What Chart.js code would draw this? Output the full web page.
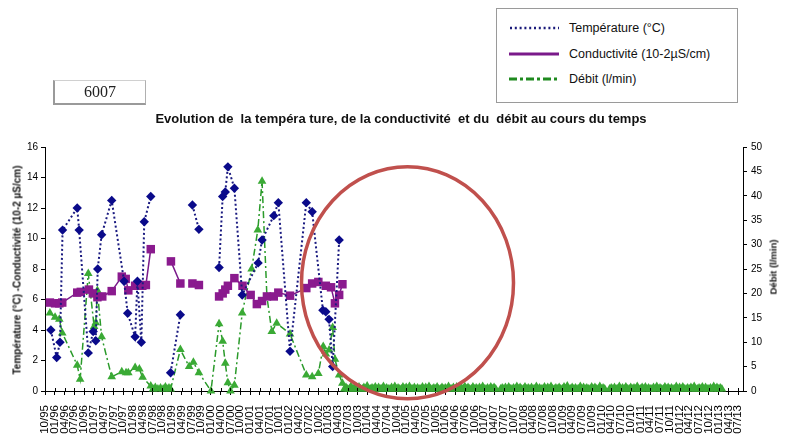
<!DOCTYPE html>
<html>
<head>
<meta charset="utf-8">
<script src="https://cdn.jsdelivr.net/npm/chart.js@4.4.1/dist/chart.umd.min.js"></script>
<style>
    body { margin: 0; background: #fff; font-family: "Liberation Sans", Arial, sans-serif; }
    #wrap { position: relative; width: 790px; height: 434px; overflow: hidden; }
    #chart { position: absolute; left: 0; top: 0; }
    #legend { position: absolute; left: 496px; top: 8px; width: 242px; height: 95px; border: 1px solid #9a9a9a; box-sizing: border-box; background: #fff; }
    .item { position: absolute; left: 12px; height: 16px; font-size: 12.5px; color: #111; white-space: nowrap; }
    .item svg { position: absolute; left: 0; top: 5px; }
    .item span { position: absolute; left: 60px; top: 0; line-height: 16px; }
    #tag { position: absolute; left: 53px; top: 80px; width: 90px; height: 22px; border-top: 1px solid #d0d0d0; border-right: 1px solid #b0b0b0; border-left: 2px solid #9a9a9a; border-bottom: 2px solid #9a9a9a; font-family: "Liberation Serif", "DejaVu Serif", serif; font-size: 16px; text-align: center; line-height: 22px; color: #222; }
    #title { position: absolute; left: 6px; width: 790px; top: 111px; text-align: center; font-size: 13px; font-weight: bold; color: #111; white-space: pre; }
    .vtitle { position: absolute; font-weight: bold; color: #111; white-space: nowrap; transform: translate(-50%, -50%) rotate(-90deg); }
</style>
</head>
<body>
<div id="wrap">
    <canvas id="chart" width="790" height="434"></canvas>
    <div id="legend">
        <div class="item" style="top:11px">
            <svg width="50" height="6"><line x1="1" y1="3" x2="50" y2="3" stroke="#1a1a7a" stroke-width="2.5" stroke-dasharray="2 2.8"/></svg>
            <span>Température (°C)</span>
        </div>
        <div class="item" style="top:37px">
            <svg width="50" height="6"><line x1="0" y1="3" x2="50" y2="3" stroke="#7a1a8a" stroke-width="3"/></svg>
            <span>Conductivité (10-2µS/cm)</span>
        </div>
        <div class="item" style="top:62px">
            <svg width="50" height="6"><line x1="0" y1="3" x2="50" y2="3" stroke="#1f8a1f" stroke-width="3" stroke-dasharray="8 3 3 3"/></svg>
            <span>Débit (l/min)</span>
        </div>
    </div>
    <div id="tag">6007</div>
    <div id="title">Evolution de  la tempéra ture, de la conductivité  et du  débit au cours du temps</div>
    <div class="vtitle" style="left:17px; top:270px; font-size:10px;">Température (°C) -Conductivité (10-2 µS/cm)</div>
    <div class="vtitle" style="left:773px; top:267px; font-size:9.5px;">Débit (l/min)</div>
</div>

<script>
// x positions are months counted from 10/1995
const xTickLabels = [
    '10/95', '01/96', '04/96', '07/96', '10/96', '01/97', '04/97', '07/97', '10/97',
    '01/98', '04/98', '07/98', '10/98', '01/99', '04/99', '07/99', '10/99',
    '01/00', '04/00', '07/00', '10/00', '01/01', '04/01', '07/01', '10/01',
    '01/02', '04/02', '07/02', '10/02', '01/03', '04/03', '07/03', '10/03',
    '01/04', '04/04', '07/04', '10/04', '01/05', '04/05', '07/05', '10/05',
    '01/06', '04/06', '07/06', '10/06', '01/07', '04/07', '07/07', '10/07',
    '01/08', '04/08', '07/08', '10/08', '01/09', '04/09', '07/09', '10/09',
    '01/10', '04/10', '07/10', '10/10', '01/11', '04/11', '07/11', '10/11',
    '01/12', '04/12', '07/12', '10/12', '01/13', '04/13', '07/13'
];

// Température (°C) - left axis
const tempMonths = [1.8, 3.6, 4.6, 5.4, 9.9, 10.5, 13.3, 14.8, 15.6, 16.2, 17.4, 20.5, 24.3, 25.4, 27.7, 28.4, 29.6, 30.5, 32.5,
    35, 38.6, 41.6, 43.5, 45.3, 47.3, 50, 53.5, 54.6, 55.4, 56.2, 58.2, 60.6, 65.5, 66.7, 70.3, 71.7, 75.3,
    80.3, 82.1, 85.4, 86.3, 87.3, 88.4, 90.4];
const tempValues = [4.0, 2.2, 3.2, 10.55, 12.0, 10.55, 2.5, 3.9, 3.3, 8.0, 10.25, 12.5, 7.2, 5.1, 3.55, 7.2, 3.2, 11.1, 12.75,
    null, 1.2, 5.0, null, 12.2, 10.6, null, 8.1, 12.75, 13.05, 14.7, 13.3, 6.3, 8.4, 9.9, 11.5, 12.35, 2.6,
    12.35, 11.75, 5.3, 5.2, 4.7, 1.6, 9.9];

// Conductivité (10-2 µS/cm) - left axis
const condMonths = [1.5, 3.1, 4.4, 5.3, 9.9, 11.0, 13.5, 14.7, 16.1, 17.6, 20.5, 23.6, 24.8, 25.6, 27.7, 29.0, 29.9, 31.0, 32.5,
    35, 38.7, 41.6, 43.5, 45.3, 47.3, 50, 53.5, 54.6, 55.4, 56.2, 58.2, 60.7, 63.2, 65.1, 66.7, 68.2, 70.3,
    71.7, 75.3, 80.3, 82.1, 84.0, 86.3, 87.9, 89.1, 90.4, 91.4];
const condValues = [5.8, 5.75, 5.75, 5.8, 6.45, 6.5, 6.65, 6.4, 6.15, 6.2, 6.55, 7.5, 7.35, 6.6, 6.9, 6.95, 6.9, 6.95, 9.3,
    null, 8.5, 7.05, null, 7.05, 6.95, null, 6.2, 6.4, 6.65, 6.9, 7.4, 6.9, 6.3, 5.7, 5.9, 6.2, 6.2,
    6.45, 6.25, 6.75, 7.05, 7.15, 6.9, 6.8, 5.75, 6.3, 7.0];

// Débit (l/min) - right axis, measured period
const flowMonths = [1.5, 3.1, 4.4, 5.3, 9.9, 10.8, 13.3, 15.1, 15.6, 16.1, 17.4, 20.5, 23.6, 24.9, 25.6, 27.7, 29.0, 30.0, 32.5,
    33.2, 33.9, 34.7, 35.5, 36.3, 37.0, 37.5, 38.1, 38.6, 41.6, 44.3, 45.6, 47.3, 51.0, 53.5, 54.6, 55.4, 56.2, 57.0, 58.2, 60.6,
    63.5, 65.4, 66.7, 68.2, 69.7, 71.2, 75.3, 80.3, 82.1, 84.0, 85.5, 86.3, 87.3, 88.4, 89.1, 90.4, 91.4];
const flowValues = [16.0, 15.1, 14.7, 11.9, 5.3, 2.4, 24.1, 13.2, 14.0, 20.6, 11.1, 2.9, 3.95, 3.75, 3.75, 4.8, 4.5, 2.8, 1.0,
    0.4, 0.7, 0.4, 0.6, 0.4, 0.8, 0.4, 0.6, 0.4, 8.5, 5.0, 5.9, 3.75, 0, 13.8, 10.2, 5.7, 1.7, 0, 1.2, 16.0,
    25.0, 33.0, 43.0, 19.3, 12.2, 13.9, 11.7, 3.3, 2.9, 3.6, 9.1, 7.6, 8.4, 13.0, 6.5, 3.3, 1.6];

// Débit after 10/03: two readings a month, nearly dry (null = no reading)
const lateFlowStart = 92;
const lateFlowStep = 0.5;
const lateFlowValues = [
    0.4, 0.7, 0.4, 0.4, 0.9, 0.4, 0.6, 0.4, 0.4, 0.8, 0.4, 0.4, 0.7, 0.4, 1.0, 0.4, 0.4, 0.6, 0.4, 0.8,
    0.4, 0.7, 0.4, 0.4, 0.9, 0.4, 0.6, 0.4, 0.4, 0.7, 0.4, 0.9, 0.4, 0.6, 0.4, 0.4, 0.8, 0.4, 0.7, 0.4,
    0.9, 0.4, 0.4, 0.7, 0.4, 0.6, 0.4, 0.4, 0.8, 0.4, 0.7, 0.4, 0.9, 0.4, 0.4, 0.6, 0.4, 0.8, 0.4, 0.4,
    0.7, 0.4, 0.6, 0.4, 0.9, 0.4, 0.4, 0.7, 0.4, 0.8, 0.4, 0.4, 0.6, 0.4, 0.9, 0.4, 0.7, 0.4, 0.4, 0.8,
    0.4, 0.6, 0.4, 0.7, 0.4, 0.9, 0.4, 0.4, 0.6, 0.4, 0.8, 0.4, 0.7, 0.4, null, null, 0.4, 0.6, 0.4, 0.7,
    0.4, 0.8, 0.4, 0.4, 0.6, 0.4, 0.9, 0.4, 0.7, 0.4, 0.4, 0.8, 0.4, 0.6, 0.4, 0.7, 0.4, 0.4, 0.9, 0.4,
    0.6, 0.4, 0.4, 0.8, 0.4, 0.7, 0.4, 0.9, 0.4, 0.4, 0.6, 0.4, 0.7, 0.4, 0.4, 0.8, 0.4, 1.0, 0.4, 0.4,
    0.7, 0.4, 0.6, 0.4, 0.4, 0.9, 0.4, 0.7, 0.4, 0.6, 0.4, 0.4, 0.8, 0.4, 0.7, 0.4, 0.4, 0.9, 0.4, 0.6,
    0.4, null, null, 0.4, 0.6, 0.4, 0.7, 0.4, 0.4, 0.9, 0.4, 0.6, 0.4, 0.8, 0.4, 0.4, 0.7, 0.4, 0.6, 0.4,
    0.9, 0.4, 0.4, 0.7, 0.4, 0.8, 0.4, 0.6, 0.4, 0.4, 0.7, 0.4, 0.9, 0.4, 0.6, 0.4, 0.4, 0.8, 0.4, 0.7,
    0.4, 0.6, 0.4, 0.4, 0.9, 0.4, 0.7, 0.4, 0.8, 0.4, 0.4, 0.6, 0.4, 0.7, 0.4, 0.9, 0.4, 0.4, 0.6, 0.4,
    0.8, 0.4, 0.7, 0.4, 0.4, 0.6, 0.4, 0.9, 0.4, 0.7, 0.4, 0.6, 0.4
];

function toPoints(xs, ys) {
    return xs.map((x, i) => ({ x: x, y: ys[i] }));
}

const flowPoints = toPoints(flowMonths, flowValues)
    .concat(lateFlowValues.map((v, i) => ({ x: lateFlowStart + i * lateFlowStep, y: v })));

// red circle over the empty period + upper half of the x ticks
const overlayPlugin = {
    id: 'overlay',
    afterDatasetsDraw(chart) {
        const c = chart.ctx;
        const xs = chart.scales.x;
        c.save();
        c.strokeStyle = '#000';
        c.lineWidth = 1;
        xs.ticks.forEach(t => {
            const px = Math.round(xs.getPixelForValue(t.value)) + 0.5;
            c.beginPath();
            c.moveTo(px, xs.top - 3);
            c.lineTo(px, xs.top);
            c.stroke();
        });
        const cx = xs.getPixelForValue(111.4);
        const cy = chart.scales.y.getPixelForValue(7.1);
        c.strokeStyle = '#c0504d';
        c.lineWidth = 3.5;
        c.beginPath();
        c.ellipse(cx, cy, 106, 116, 0, 0, Math.PI * 2);
        c.stroke();
        c.restore();
    }
};

const axisFont = { family: '"Liberation Sans", Arial, sans-serif', size: 10 };

new Chart(document.getElementById('chart'), {
    type: 'line',
    data: {
        datasets: [{
            label: 'Température (°C)',
            data: toPoints(tempMonths, tempValues),
            yAxisID: 'y',
            borderColor: '#1a1a80',
            borderWidth: 2,
            borderDash: [2, 2.5],
            pointStyle: 'rectRot',
            pointRadius: 4.7,
            pointBackgroundColor: '#0a0a8a',
            pointBorderWidth: 0,
            spanGaps: false,
            clip: false
        }, {
            label: 'Conductivité (10-2µS/cm)',
            data: toPoints(condMonths, condValues),
            yAxisID: 'y',
            borderColor: '#7a1a8a',
            borderWidth: 1.5,
            pointStyle: 'rect',
            pointRadius: 6,
            pointBackgroundColor: '#8a1a8e',
            pointBorderWidth: 0,
            spanGaps: false,
            clip: false
        }, {
            label: 'Débit (l/min)',
            data: flowPoints,
            yAxisID: 'y1',
            borderColor: '#2a9a2a',
            borderWidth: 1.5,
            borderDash: [7, 3, 2, 3],
            pointStyle: 'triangle',
            pointRadius: 5,
            pointBackgroundColor: '#3aaa35',
            pointBorderWidth: 0,
            spanGaps: true,
            clip: false
        }]
    },
    options: {
        responsive: false,
        animation: false,
        layout: { padding: { top: 147, left: 0, right: 0, bottom: 0 } },
        plugins: { legend: { display: false }, tooltip: { enabled: false } },
        scales: {
            x: {
                type: 'linear',
                min: 0,
                max: 214.5,
                afterBuildTicks: function (axis) {
                    axis.ticks = xTickLabels.map((_, i) => ({ value: i * 3 }));
                },
                afterFit: function (axis) { axis.height = 43; },
                ticks: {
                    autoSkip: false,
                    maxRotation: 90,
                    minRotation: 90,
                    padding: 10,
                    color: '#000',
                    font: { family: axisFont.family, size: 11.5 },
                    callback: function (value) { return xTickLabels[Math.round(value / 3)]; }
                },
                grid: { drawOnChartArea: false, color: '#000', tickLength: 4 },
                border: { color: '#000', width: 1 }
            },
            y: {
                position: 'left',
                min: 0,
                max: 16,
                afterFit: function (axis) { axis.width = 45; },
                ticks: { stepSize: 2, padding: 3, color: '#000', font: axisFont },
                grid: { drawOnChartArea: false, color: '#000', tickLength: 4 },
                border: { color: '#000', width: 1 }
            },
            y1: {
                position: 'right',
                min: 0,
                max: 50,
                afterFit: function (axis) { axis.width = 47; },
                ticks: { stepSize: 5, padding: 4, color: '#000', font: axisFont },
                grid: { drawOnChartArea: false, color: '#000', tickLength: 4 },
                border: { color: '#000', width: 1 }
            }
        }
    },
    plugins: [overlayPlugin]
});
</script>
</body>
</html>
